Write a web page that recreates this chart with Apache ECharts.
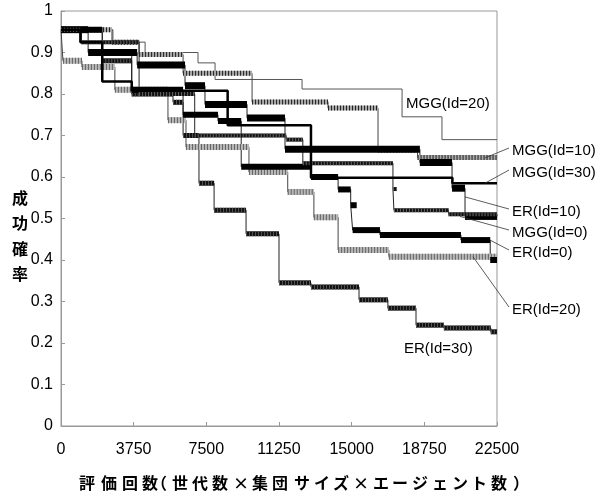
<html>
  <head>
    <meta http-equiv="Content-Type" content="text/html; charset=utf-8" />
    <script src="https://cdn.jsdelivr.net/npm/echarts@6/dist/echarts.min.js"></script>
  </head>
  <body style="margin:0">
    <div id="main" style="width:608px;height:497px;"></div>
    <script type="text/javascript">
// step curves: [evaluations, success rate], value holds until the next point
var mgg20 = [[0,0.955],[2680,0.925],[4340,0.90],[7070,0.875],[7950,0.835],[12440,0.812],[17600,0.745],[19660,0.69],[22500,0.69]];
var mgg10 = [[0,0.955],[2630,0.925],[4030,0.895],[6300,0.85],[9860,0.781],[13780,0.766],[16360,0.665],[18400,0.647],[22500,0.646]];
var mgg30 = [[0,0.955],[1000,0.925],[2130,0.83],[3650,0.808],[8600,0.725],[12900,0.598],[20200,0.585],[22500,0.585]];
var er10  = [[0,0.955],[1400,0.90],[3930,0.87],[6400,0.82],[7430,0.775],[9600,0.742],[11560,0.667],[18520,0.635],[20180,0.573],[20850,0.505],[22500,0.505]];
var mgg0  = [[0,0.955],[1050,0.925],[4030,0.80],[6900,0.70],[11620,0.69],[12480,0.633],[17130,0.571],[17180,0.52],[20000,0.51],[22500,0.505]];
var er0   = [[0,0.955],[2130,0.90],[3650,0.81],[6300,0.75],[8100,0.735],[9300,0.625],[12900,0.60],[14300,0.57],[14950,0.532],[15050,0.472],[16460,0.46],[20640,0.448],[22150,0.40],[22500,0.40]];
var er20  = [[0,0.955],[100,0.88],[1080,0.865],[2780,0.81],[5520,0.737],[6450,0.672],[9700,0.612],[11700,0.564],[13050,0.503],[14300,0.424],[16920,0.408],[22500,0.408]];
var er30  = [[0,0.955],[2130,0.88],[3650,0.80],[5780,0.78],[6300,0.70],[7120,0.585],[7900,0.52],[9550,0.463],[11250,0.345],[12900,0.335],[15380,0.304],[16870,0.284],[18320,0.243],[19760,0.236],[22180,0.227],[22500,0.227]];

// name, label position (px), leader end in data coords (or null)
var labels = [
  ['MGG(Id=20)', 406, 104, null],
  ['MGG(Id=10)', 512, 151, [21880, 0.646]],
  ['MGG(Id=30)', 512, 173, [21880, 0.585]],
  ['ER(Id=10)',  512, 212, [20850, 0.552]],
  ['MGG(Id=0)',  512, 233, [20590, 0.505]],
  ['ER(Id=0)',   512, 253, [22140, 0.448]],
  ['ER(Id=20)',  512, 310, [21260, 0.408]],
  ['ER(Id=30)',  404, 349, null]
];

var xTitle = '評価回数（世代数×集団サイズ×エージェント数）';
var xTitleAt = [87,109,130,150,159,180,200,220,241,260,280,302,322,341,361,381,400,420,440,460,479,499,521];
var yTitle = '成功確率';

function segs(d) {
  var out = [];
  for (var i = 0; i < d.length - 1; i++) out.push([d[i][0], d[i + 1][0], d[i][1]]);
  return out;
}

// thick marker band drawn along each flat part of a curve
function band(data, h, fill, dash, z) {
  return {
    type: 'custom', data: segs(data), z: z, silent: true,
    encode: { x: [0, 1], y: 2 },
    renderItem: function (params, api) {
      var a = api.coord([api.value(0), api.value(2)]);
      var b = api.coord([api.value(1), api.value(2)]);
      var w = Math.max(b[0] - a[0], h);
      var kids = [{ type: 'rect', shape: { x: a[0], y: a[1] - h / 2, width: w, height: h }, style: { fill: fill } }];
      if (dash) {
        kids.push({ type: 'line', shape: { x1: a[0], y1: a[1], x2: a[0] + w, y2: a[1] },
          style: { stroke: dash, lineWidth: h, lineDash: [1, 2] } });
      }
      return { type: 'group', children: kids };
    }
  };
}

function step(data, color, width, z) {
  return { type: 'line', step: 'end', data: data, symbol: 'none', z: z, silent: true,
    lineStyle: { color: color, width: width } };
}

var myChart = echarts.init(document.getElementById('main'));

var series = [
  step(mgg20, '#555', 1, 2),
  step(er20, '#444', 1, 2), band(er20, 6, '#b8b8b8', '#666', 3),
  step(mgg10, '#444', 1, 2), band(mgg10, 5, '#aaa', '#222', 4),
  step(er30, '#222', 1, 2), band(er30, 5, '#111', '#555', 5),
  step(er0, '#222', 1, 2), band(er0, 6, '#000', null, 5),
  step(er10, '#222', 1, 2), band(er10, 7, '#000', null, 5),
  step(mgg0, '#222', 1, 2), band(mgg0, 4, '#111', '#666', 6),
  step(mgg30, '#000', 2.5, 6)
];

var option = {
  animation: false,
  grid: { left: 61, right: 111, top: 11, bottom: 71, show: true, borderColor: '#999', borderWidth: 1 },
  xAxis: {
    type: 'value', min: 0, max: 22500, interval: 3750,
    axisLine: { lineStyle: { color: '#999' } },
    axisTick: { inside: true, length: 4, lineStyle: { color: '#999' } },
    splitLine: { show: false },
    axisLabel: { color: '#000', fontFamily: 'Liberation Sans', fontSize: 16, margin: 16,
      formatter: function (v) { return String(v); } }
  },
  yAxis: {
    type: 'value', min: 0, max: 1, interval: 0.1,
    axisLine: { show: true, lineStyle: { color: '#999' } },
    axisTick: { show: true, inside: true, length: 4, lineStyle: { color: '#999' } },
    splitLine: { show: false },
    axisLabel: { color: '#000', fontFamily: 'Liberation Sans', fontSize: 16, margin: 8,
      formatter: function (v) { return String(Math.round(v * 10) / 10); } }
  },
  series: series
};
myChart.setOption(option);

var g = [];
labels.forEach(function (l) {
  g.push({ type: 'text', x: l[1], y: l[2], style: { text: l[0], fill: '#000',
    font: '15px "Liberation Sans"', textVerticalAlign: 'middle' }, z: 20 });
  if (l[3]) {
    var p = myChart.convertToPixel({ gridIndex: 0 }, l[3]);
    g.push({ type: 'line', shape: { x1: l[1] - 3, y1: l[2] - 3, x2: p[0], y2: p[1] },
      style: { stroke: '#333', lineWidth: 0.8 }, z: 20 });
  }
});
for (var i = 0; i < xTitle.length; i++) {
  g.push({ type: 'text', x: xTitleAt[i], y: 483, style: { text: xTitle[i], fill: '#000',
    font: 'bold 16px "Noto Sans CJK JP"', textAlign: 'center', textVerticalAlign: 'middle' } });
}
for (var j = 0; j < yTitle.length; j++) {
  g.push({ type: 'text', x: 20, y: 198 + j * 25.3, style: { text: yTitle[j], fill: '#000',
    font: 'bold 16px "Noto Sans CJK JP"', textAlign: 'center', textVerticalAlign: 'middle' } });
}
myChart.setOption({ graphic: g });
    </script>
  </body>
</html>
